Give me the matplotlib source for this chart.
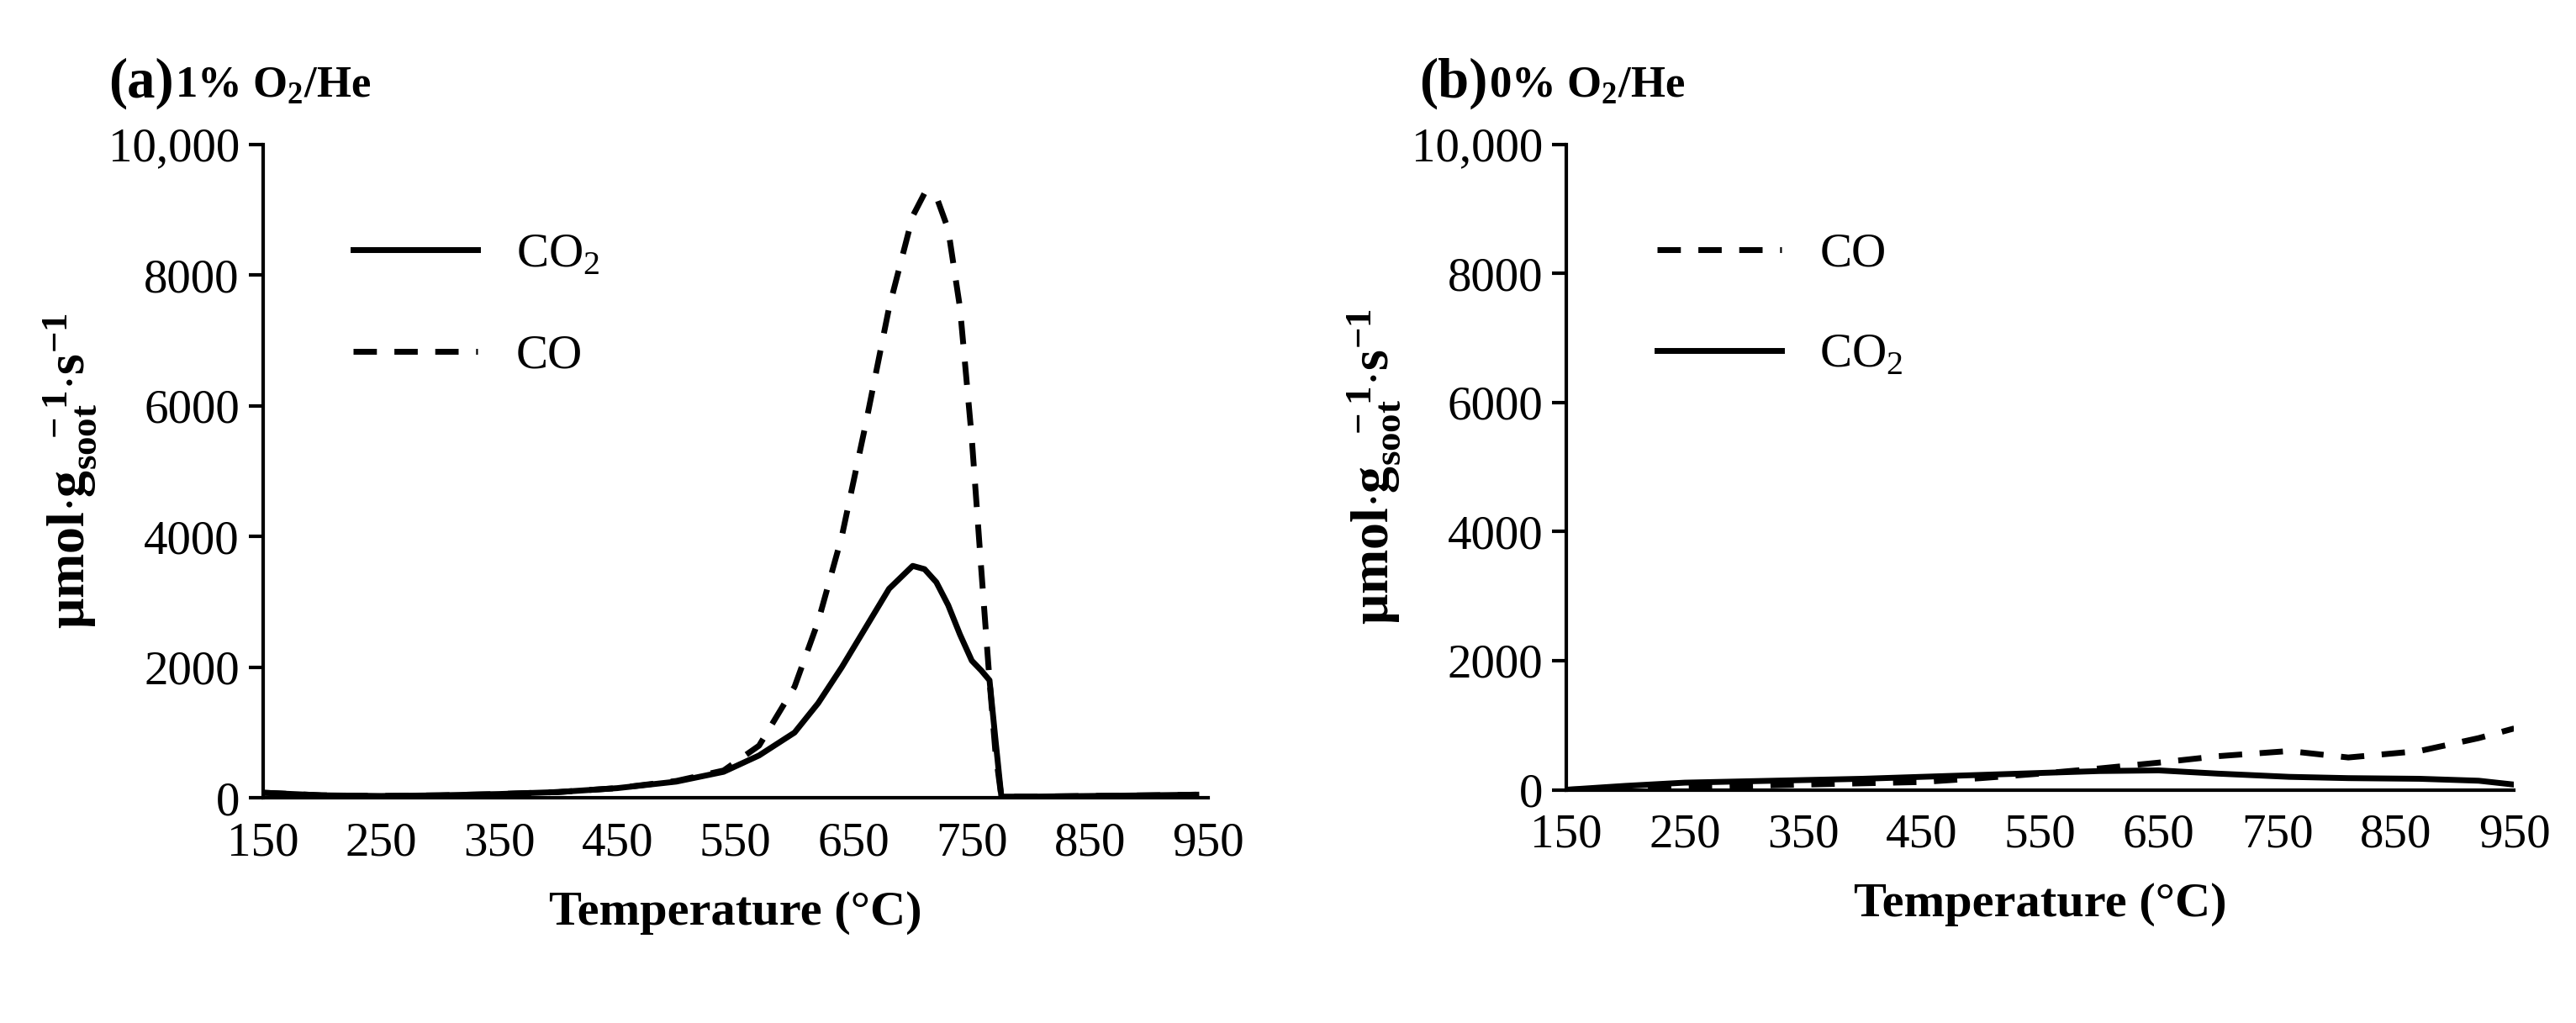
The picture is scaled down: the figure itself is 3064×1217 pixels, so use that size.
import matplotlib
matplotlib.use("Agg")
import matplotlib.pyplot as plt
from matplotlib.ticker import FuncFormatter

plt.rcParams['font.family'] = ['Liberation Serif', 'DejaVu Serif']
plt.rcParams['mathtext.fontset'] = 'custom'
plt.rcParams['mathtext.rm'] = 'Liberation Serif'
plt.rcParams['mathtext.bf'] = 'Liberation Serif:bold'

# Panel (a) 1% O2/He
a_T = [150, 200, 250, 300, 350, 400, 450, 500, 540, 570, 600, 620, 640, 660, 680, 700, 710, 720, 730, 740, 750, 758, 765, 770, 775, 800, 850, 900, 940]
a_co2 = [80, 40, 30, 40, 60, 90, 150, 250, 400, 650, 1000, 1450, 2000, 2600, 3200, 3550, 3500, 3300, 2950, 2500, 2100, 1950, 1800, 900, 20, 20, 30, 40, 50]
a_co = [80, 40, 30, 40, 60, 90, 150, 260, 420, 800, 1700, 2700, 4000, 5700, 7500, 8900, 9250, 9200, 8700, 7500, 5500, 3500, 1800, 700, 20, 20, 30, 40, 50]

# Panel (b) 0% O2/He
b_T = [150, 200, 250, 300, 350, 400, 450, 500, 550, 600, 650, 700, 760, 810, 870, 920, 950]
b_co = [0, 20, 40, 60, 80, 100, 120, 180, 250, 330, 420, 520, 600, 500, 600, 800, 950]
b_co2 = [0, 60, 110, 130, 150, 170, 200, 230, 260, 290, 300, 250, 200, 180, 170, 140, 80]

xticks = list(range(150, 951, 100))
yticks = [0, 2000, 4000, 6000, 8000, 10000]

fig = plt.figure(figsize=(30.64, 12.17), dpi=100)
ax1 = fig.add_axes([0.102, 0.220, 0.367, 0.639])
ax2 = fig.add_axes([0.608, 0.228, 0.368, 0.631])

ax1.plot(a_T, a_co2, color='black', lw=5, label='CO$_2$')
ax1.plot(a_T, a_co, color='black', lw=5, ls=(0, (4, 3)), label='CO')
ax2.plot(b_T, b_co, color='black', lw=5, ls=(0, (4, 3)), label='CO')
ax2.plot(b_T, b_co2, color='black', lw=5, label='CO$_2$')

fmt = FuncFormatter(lambda v, p: f"{int(v):,}" if v >= 10000 else f"{int(v)}")
for ax in (ax1, ax2):
    ax.set_xlim(150, 950)
    ax.set_ylim(0, 10000)
    ax.set_xticks(xticks)
    ax.set_yticks(yticks)
    ax.yaxis.set_major_formatter(fmt)
    ax.spines['top'].set_visible(False)
    ax.spines['right'].set_visible(False)
    ax.spines['left'].set_linewidth(3)
    ax.spines['bottom'].set_linewidth(3)
    ax.tick_params(axis='y', length=12, width=3, labelsize=41, pad=8)
    ax.tick_params(axis='x', length=0, labelsize=41, pad=20)
    ax.set_xlabel('Temperature (°C)', fontsize=42, fontweight='bold', labelpad=22)
    ax.set_ylabel(r'$\mathbf{\mu mol{\cdot}g_{soot}^{\ \ -1}{\cdot}s^{-1}}$', fontsize=46, labelpad=8)
    ax.legend(frameon=False, fontsize=41, handlelength=2.6, labelspacing=1.2,
              loc='upper left', bbox_to_anchor=(0.05, 0.93))

fig.text(0.042, 0.905, '(a)', fontsize=48, fontweight='bold')
fig.text(0.068, 0.905, r'1% O$_\mathbf{2}$/He', fontsize=38, fontweight='bold')
fig.text(0.551, 0.905, '(b)', fontsize=48, fontweight='bold')
fig.text(0.578, 0.905, r'0% O$_\mathbf{2}$/He', fontsize=38, fontweight='bold')

fig.savefig('out.png', dpi=100)
